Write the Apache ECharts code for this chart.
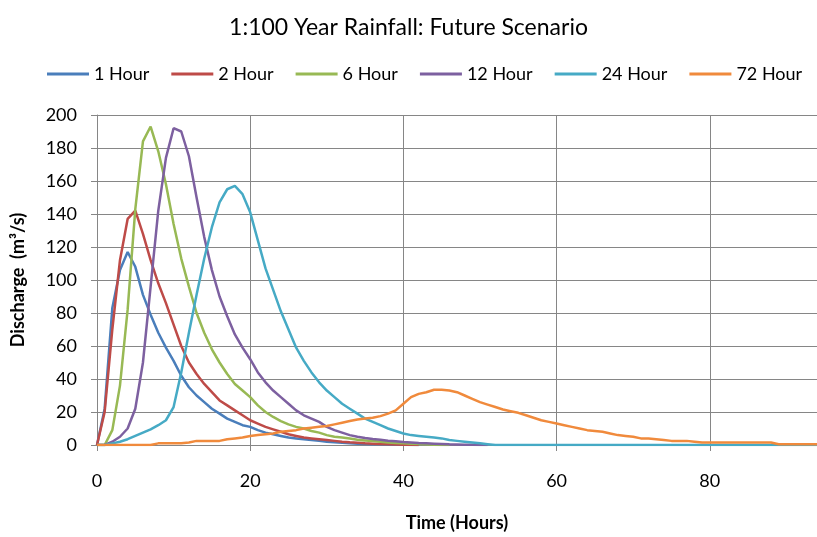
<!DOCTYPE html>
<html>
<head>
<meta charset="utf-8">
<script src="https://cdn.jsdelivr.net/npm/echarts@6/dist/echarts.min.js"></script>
<style>html,body{margin:0;padding:0;background:#fff}#c{width:817px;height:537px}</style>
</head>
<body>
<div id="c"></div>
<script>
var titleText = '1:100 Year Rainfall: Future Scenario';
var seriesNames = ['1 Hour', '2 Hour', '6 Hour', '12 Hour', '24 Hour', '72 Hour'];
var colors = ['#4A7EBB', '#BE4B48', '#98B954', '#7D60A0', '#46AAC5', '#F08A3C'];
var xTicks = [0, 20, 40, 60, 80];
var yTicks = [0, 20, 40, 60, 80, 100, 120, 140, 160, 180, 200];

var hours = [0,1,2,3,4,5,6,7,8,9,10,11,12,13,14,15,16,17,18,19,20,21,22,23,24,25,26,27,28,29,30,31,32,33,34,35,36,37,38,39,40,41,42,43,44,45,46,47,48,49,50,51,52,53,54,55,56,57,58,59,60,61,62,63,64,65,66,67,68,69,70,71,72,73,74,75,76,77,78,79,80,81,82,83,84,85,86,87,88,89,90,91,92,93,94];

var h1 = [0,22,83,106,117,108,91,79,68,59,51,42,35,30,26,22,19,16,14,12,11,9,7.5,6.5,5.5,4.5,4,3.5,3,2.5,2,1.6,1.3,1,0.8,0.6,0.5,0.4,0.3,0.2,0.1,0,0];
var h2 = [0,20,70,112,137,142,128,112,98,86,73,60,50,43,37,32,27,24,21,18,15,13,11,9.5,8,6.5,5.5,4.5,4,3.5,3,2.5,2,1.6,1.3,1,0.8,0.6,0.5,0.3,0.2,0.1,0];
var h6 = [0,0,9,36,82,143,184,193,178,158,134,113,96,80,68,58,50,43,37,33,29,24,20,17,14.5,12.5,11,10,8.5,7.5,6,5,4.5,4,3.2,2.8,2.4,2,1.5,1.2,1,0.8,0.6,0.4,0.2,0,0];
var h12 = [0,0,2,5,10,22,50,96,142,174,192,190,175,150,126,106,90,78,67,59,52,44,38,33,29,25,21,18,16,14,11,9,7.5,6,5,4.2,3.6,3.2,2.6,2.2,1.8,1.5,1.2,1,0.8,0.6,0.4,0.3,0.2,0.1,0,0];
var h24 = [0,0,1,2,3.5,5.5,7.5,9.5,12,15,23,44,68,91,113,132,147,155,157,152,141,124,107,94,81,70,59,51,44,38,33,29,25,22,19,16,14,12,10,8.5,7,6,5.5,5,4.5,4,3,2.5,2,1.5,1,0.5,0,0,0,0,0,0,0,0,0,0,0,0,0,0,0,0,0,0,0,0,0,0,0,0,0,0,0,0,0,0,0,0,0,0,0,0,0,0,0,0,0,0,0];
var h72 = [0,0,0,0,0,0,0,0,1,1,1,1,1.5,2.5,2.5,2.5,2.5,3.5,4,4.5,5.5,6,6.5,7,8,8.5,9,10,10.5,11,11.5,12.5,13.5,14.5,15.5,16,16.5,17.5,19,21,25,29,31,32,33.5,33.5,33,32,30,28,26,24.5,23,21.5,20.5,19.5,18,16.5,15,14,13,12,11,10,9,8.5,8,7,6,5.5,5,4,4,3.5,3,2.5,2.5,2.5,2,1.5,1.5,1.5,1.5,1.5,1.5,1.5,1.5,1.5,1.5,0.5,0.5,0.5,0.5,0.5,0.5];

var allValues = [h1, h2, h6, h12, h24, h72];
var FONT = 'Lato, "Open Sans", sans-serif';
var GRID = '#868686';

function pairs(vals) {
  var out = [];
  for (var i = 0; i < vals.length; i++) out.push([hours[i], vals[i]]);
  return out;
}

var chart = echarts.init(document.getElementById('c'), null, {renderer: 'canvas'});
chart.setOption({
  animation: false,
  backgroundColor: '#ffffff',
  textStyle: {fontFamily: FONT, color: '#000'},
  title: {
    text: titleText, left: 'center', top: 11,
    textStyle: {fontFamily: FONT, fontSize: 23, fontWeight: 'normal', color: '#000'}
  },
  legend: {
    data: seriesNames, left: 42, top: 60, icon: 'rect',
    itemWidth: 42, itemHeight: 3, itemGap: 22,
    textStyle: {fontFamily: FONT, fontSize: 18, color: '#000', padding: [0, 0, 0, 0]}
  },
  grid: {left: 97, right: 0, top: 115, bottom: 89, containLabel: false},
  xAxis: {
    type: 'value', min: 0, max: 94, interval: 20,
    name: 'Time (Hours)', nameLocation: 'middle', nameGap: 69,
    nameTextStyle: {fontFamily: FONT, fontSize: 18, fontWeight: 'bold', color: '#000'},
    axisLine: {show: true, lineStyle: {color: GRID, width: 1}},
    axisTick: {show: true, inside: false, length: 6, lineStyle: {color: GRID}},
    axisLabel: {margin: 27, fontSize: 18, color: '#000', fontFamily: FONT, showMaxLabel: false,
      formatter: function (v) { return xTicks.indexOf(v) >= 0 ? String(v) : ''; }},
    splitLine: {show: true, lineStyle: {color: GRID, width: 1}}
  },
  yAxis: {
    type: 'value', min: 0, max: 200, interval: 20,
    name: 'Discharge  (m³/s)', nameLocation: 'middle', nameGap: 70,
    nameTextStyle: {fontFamily: FONT, fontSize: 18, fontWeight: 'bold', color: '#000'},
    axisLine: {show: true, lineStyle: {color: GRID, width: 1}},
    axisTick: {show: true, inside: false, length: 6, lineStyle: {color: GRID}},
    axisLabel: {margin: 20, fontSize: 18, color: '#000', fontFamily: FONT,
      formatter: function (v) { return yTicks.indexOf(v) >= 0 ? String(v) : ''; }},
    splitLine: {show: true, lineStyle: {color: GRID, width: 1}}
  },
  series: seriesNames.map(function (n, i) {
    return {
      name: n, type: 'line', data: pairs(allValues[i]), showSymbol: false, symbol: 'none',
      lineStyle: {width: 2.5, color: colors[i]}, itemStyle: {color: colors[i]},
      clip: true, z: 2 + i
    };
  })
});
</script>
</body>
</html>
